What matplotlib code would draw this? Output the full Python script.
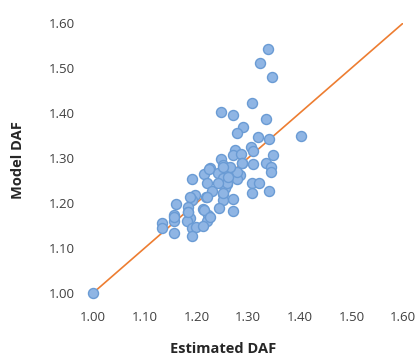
import matplotlib.pyplot as plt

# values
estimated = [1.339, 1.324, 1.346, 1.308, 1.248, 1.271, 1.335, 1.291, 1.279, 1.320,
             1.340, 1.402, 1.305, 1.275, 1.271, 1.286, 1.309, 1.348, 1.247, 1.251,
             1.288, 1.309, 1.335, 1.345, 1.344, 1.226, 1.256, 1.242, 1.277, 1.284,
             1.278, 1.215, 1.192, 1.221, 1.252, 1.260, 1.308, 1.321, 1.308, 1.340,
             1.255, 1.230, 1.251, 1.197, 1.191, 1.219, 1.252, 1.271, 1.160, 1.183,
             1.213, 1.243, 1.271, 1.183, 1.157, 1.223, 1.188, 1.157, 1.182, 1.220,
             1.133, 1.133, 1.191, 1.200, 1.213, 1.157, 1.192, 1.000,
             1.188, 1.184, 1.220, 1.215, 1.226, 1.252, 1.259, 1.278, 1.265, 1.288,
             1.252, 1.262, 1.242, 1.224, 1.157]
model = [1.542, 1.512, 1.481, 1.422, 1.402, 1.396, 1.386, 1.368, 1.356, 1.346,
         1.342, 1.350, 1.324, 1.319, 1.307, 1.309, 1.316, 1.306, 1.299, 1.284,
         1.288, 1.287, 1.288, 1.281, 1.269, 1.277, 1.277, 1.267, 1.270, 1.262,
         1.253, 1.264, 1.253, 1.244, 1.255, 1.242, 1.244, 1.245, 1.223, 1.227,
         1.233, 1.227, 1.220, 1.218, 1.207, 1.214, 1.207, 1.208, 1.198, 1.192,
         1.186, 1.190, 1.183, 1.180, 1.173, 1.173, 1.166, 1.160, 1.161, 1.161,
         1.155, 1.144, 1.144, 1.147, 1.149, 1.134, 1.127, 1.000,
         1.214, 1.181, 1.214, 1.184, 1.170, 1.222, 1.244, 1.270, 1.281, 1.288,
         1.281, 1.259, 1.244, 1.276, 1.170]
line_x = [1.0, 1.6]
ticks = [1.0, 1.1, 1.2, 1.3, 1.4, 1.5, 1.6]

plt.rcParams['font.family'] = ['Open Sans', 'DejaVu Sans']

fig = plt.figure(figsize=(4.19, 3.56), dpi=100)
ax = fig.add_axes([0.222, 0.177, 0.740, 0.758])

ax.plot(line_x, line_x, color='#ED7D31', lw=1.2, zorder=1)
ax.scatter(estimated, model, s=52, facecolor='#8FB5E4', edgecolor='#6A9BD4',
           linewidth=1.0, zorder=2, clip_on=False)

ax.set_xlim(1.0, 1.6)
ax.set_ylim(1.0, 1.6)
ax.set_xticks(ticks)
ax.set_yticks(ticks)
ax.set_xticklabels([f"{t:.2f}" for t in ticks])
ax.set_yticklabels([f"{t:.2f}" for t in ticks])
ax.tick_params(length=0, labelsize=9.5, colors='#404040')
ax.tick_params(axis='x', pad=13)
ax.tick_params(axis='y', pad=13)
for s in ax.spines.values():
    s.set_visible(False)

fig.text(0.532, 0.02, "Estimated DAF", ha='center', va='center',
         fontsize=10.5, fontweight='bold', color='#262626')
fig.text(0.043, 0.55, "Model DAF", ha='center', va='center', rotation=90,
         fontsize=10.5, fontweight='bold', color='#262626')

fig.savefig("out.png", dpi=100)
